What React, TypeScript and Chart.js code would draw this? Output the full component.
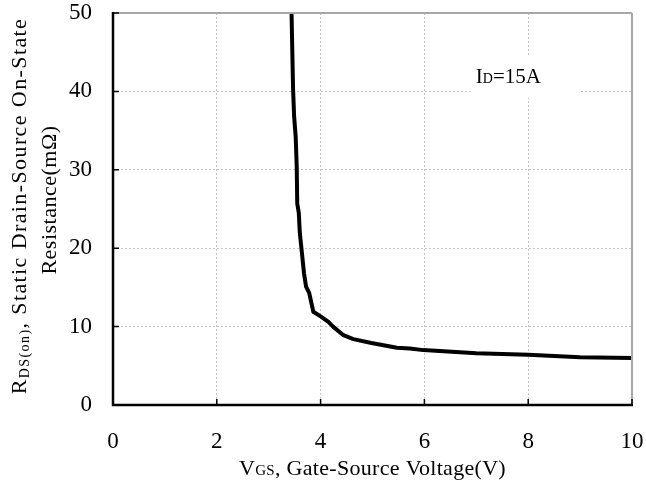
import React, { useEffect, useRef } from "react";
import { Chart, registerables } from "chart.js";

Chart.register(...registerables);

// Data (ID = 15A)
const vgs = [3.44, 3.47, 3.49, 3.52, 3.54, 3.55, 3.58, 3.6, 3.64, 3.68, 3.72, 3.78, 3.86, 4.0, 4.15, 4.24, 4.44, 4.63, 4.98, 5.47, 5.72, 5.98, 7.0, 8.0, 9.0, 10.0];
const rds = [50, 40.2, 36.8, 34.2, 30.4, 25.7, 24.5, 21.9, 19.4, 16.8, 15.1, 14.3, 11.9, 11.3, 10.6, 10.0, 8.9, 8.4, 7.9, 7.3, 7.2, 7.0, 6.6, 6.4, 6.1, 6.0];
const xTicks = [0, 2, 4, 6, 8, 10];
const yTicks = [0, 10, 20, 30, 40, 50];
const labelText = { main: "I", sub: "D", rest: "=15A" };
const labelBox = { x0: 6.88, x1: 9.0, y0: 44.4, y1: 39.2, textX: 6.99, textY: 41.1 };

const FONT = "'Liberation Serif', 'Times New Roman', serif";

type Run = { t: string; size: number; dy?: number };

function drawRuns(ctx: CanvasRenderingContext2D, runs: Run[], x: number, y: number, align: "center" | "left", spacing = 0) {
  const c: any = ctx;
  c.letterSpacing = `${spacing}px`;
  let total = 0;
  const widths = runs.map((r) => {
    ctx.font = `${r.size}px ${FONT}`;
    const w = ctx.measureText(r.t).width;
    total += w;
    return w;
  });
  let cx = align === "center" ? x - total / 2 : x;
  ctx.textAlign = "left";
  ctx.textBaseline = "alphabetic";
  runs.forEach((r, i) => {
    ctx.font = `${r.size}px ${FONT}`;
    ctx.fillText(r.t, cx, y + (r.dy || 0));
    cx += widths[i];
  });
  c.letterSpacing = "0px";
}

const decorPlugin = {
  id: "decor",
  beforeDatasetsDraw(chart: any) {
    const { ctx, scales } = chart;
    const xs = scales.x;
    const ys = scales.y;
    ctx.save();
    const bx0 = xs.getPixelForValue(labelBox.x0);
    const bx1 = xs.getPixelForValue(labelBox.x1);
    const by0 = ys.getPixelForValue(labelBox.y0);
    const by1 = ys.getPixelForValue(labelBox.y1);
    ctx.fillStyle = "#ffffff";
    ctx.fillRect(bx0, by0, bx1 - bx0, by1 - by0);
    ctx.fillStyle = "#000";
    drawRuns(
      ctx,
      [
        { t: labelText.main, size: 21 },
        { t: labelText.sub, size: 14 },
        { t: labelText.rest, size: 21 },
      ],
      xs.getPixelForValue(labelBox.textX),
      ys.getPixelForValue(labelBox.textY),
      "left"
    );
    ctx.restore();
  },
  afterDatasetsDraw(chart: any) {
    const { ctx, chartArea, scales } = chart;
    const { left, right, top, bottom } = chartArea;
    const xs = scales.x;
    const ys = scales.y;
    ctx.save();
    ctx.strokeStyle = "#a8a8a8";
    ctx.lineWidth = 2;
    ctx.beginPath();
    ctx.moveTo(left, top);
    ctx.lineTo(right, top);
    ctx.moveTo(right, top);
    ctx.lineTo(right, bottom);
    ctx.stroke();
    ctx.strokeStyle = "#000";
    ctx.lineWidth = 1.5;
    ctx.beginPath();
    xTicks.forEach((v) => {
      const px = xs.getPixelForValue(v);
      ctx.moveTo(px, bottom);
      ctx.lineTo(px, bottom - 6);
    });
    yTicks.forEach((v) => {
      const py = ys.getPixelForValue(v);
      ctx.moveTo(left, py);
      ctx.lineTo(left + 6, py);
    });
    ctx.stroke();
    ctx.lineWidth = 2.5;
    ctx.beginPath();
    ctx.moveTo(left, top - 1);
    ctx.lineTo(left, bottom);
    ctx.lineTo(right + 1, bottom);
    ctx.stroke();
    ctx.restore();
  },
  afterDraw(chart: any) {
    const { ctx, chartArea } = chart;
    const { left, right, top, bottom } = chartArea;
    ctx.save();
    ctx.fillStyle = "#000";
    drawRuns(
      ctx,
      [
        { t: "V", size: 22 },
        { t: "GS", size: 15 },
        { t: ", Gate-Source Voltage(V)", size: 22 },
      ],
      (left + right) / 2,
      475,
      "center",
      0.3
    );
    const cy = (top + bottom) / 2;
    ctx.save();
    ctx.translate(26, cy - 3);
    ctx.rotate(-Math.PI / 2);
    drawRuns(
      ctx,
      [
        { t: "R", size: 22 },
        { t: "DS(on)", size: 14, dy: 3 },
        { t: ", Static Drain-Source On-State", size: 22 },
      ],
      0,
      0,
      "center",
      1.4
    );
    ctx.restore();
    ctx.save();
    ctx.translate(56, cy - 9);
    ctx.rotate(-Math.PI / 2);
    drawRuns(ctx, [{ t: "Resistance(mΩ)", size: 22 }], 0, 0, "center", 0.5);
    ctx.restore();
    ctx.restore();
  },
};

export default function App() {
  const ref = useRef<HTMLCanvasElement | null>(null);
  useEffect(() => {
    if (!ref.current) return;
    Chart.defaults.font.family = FONT;
    const chart = new Chart(ref.current, {
      type: "scatter",
      data: {
        datasets: [
          {
            data: vgs.map((v, i) => ({ x: v, y: rds[i] })),
            showLine: true,
            borderColor: "#000",
            borderWidth: 4,
            pointRadius: 0,
            tension: 0,
            borderJoinStyle: "round",
            borderCapStyle: "round",
          } as any,
        ],
      },
      options: {
        responsive: false,
        animation: false,
        layout: { padding: { left: 0, top: 13, right: 14, bottom: 0 } },
        plugins: { legend: { display: false }, tooltip: { enabled: false } },
        scales: {
          x: {
            type: "linear",
            min: 0,
            max: 10,
            afterFit: (s: any) => {
              s.height = 79;
              s.paddingLeft = 0;
              s.paddingRight = 0;
            },
            afterBuildTicks: (s: any) => {
              s.ticks = xTicks.map((v) => ({ value: v }));
            },
            ticks: { color: "#000", font: { size: 23, family: FONT }, padding: 23, maxRotation: 0 },
            grid: { color: "#c4c4c4", lineWidth: 1, drawTicks: false },
            border: { display: false, dash: [2, 2] },
          },
          y: {
            type: "linear",
            min: 0,
            max: 50,
            afterFit: (s: any) => {
              s.width = 113;
              s.paddingTop = 0;
              s.paddingBottom = 0;
            },
            afterBuildTicks: (s: any) => {
              s.ticks = yTicks.map((v) => ({ value: v }));
            },
            ticks: { color: "#000", font: { size: 23, family: FONT }, padding: 21 },
            grid: { color: "#c4c4c4", lineWidth: 1, drawTicks: false },
            border: { display: false, dash: [2, 2] },
          },
        },
      },
      plugins: [decorPlugin],
    });
    return () => chart.destroy();
  }, []);
  return (
    <div style={{ position: "absolute", left: 0, top: 0, width: 646, height: 484, background: "#fff" }}>
      <canvas ref={ref} width={646} height={484} style={{ display: "block" }} />
    </div>
  );
}
